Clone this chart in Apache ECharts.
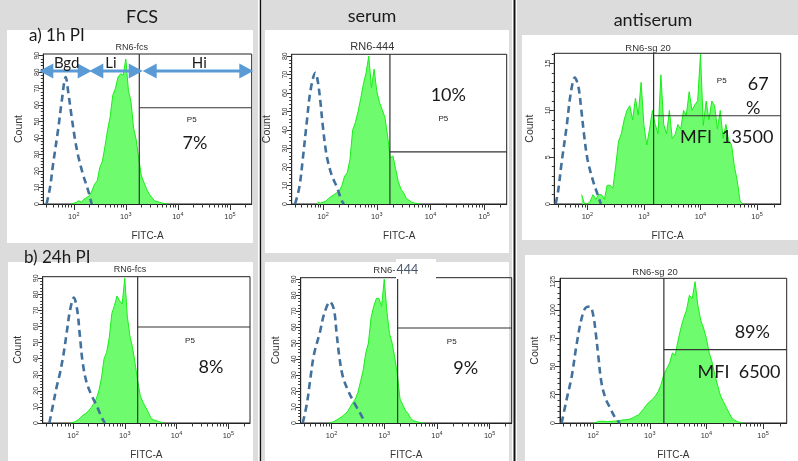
<!DOCTYPE html>
<html><head><meta charset="utf-8">
<script src="https://cdn.jsdelivr.net/npm/echarts@6/dist/echarts.min.js"></script>
<style>html,body{margin:0;padding:0;background:#fff}#c{width:798px;height:461px}</style>
</head><body><div id="c"></div>
<script>
// ---------- data ----------
const bins = [79,89,100,112,126,141,158,178,200,224,251,282,316,355,398,447,501,562,631,708,794,891,1000,1122,1259,1413,1585,1778,1995,2239,2512,2818,3162,3548,3981,4467,5012,5623,6310,7079,7943,8913,10000,11220,12589,14125,15849,17783,19953,22387,25119,28184,31623,35481,39811,44668,50119,56234,63096];

const hist1 = [0,0,0.5,1,2,1,3,4,5,8, 12,14,22,26,35,45,53,66,70,77, 79,78,88,69,62,46,39,27,17,13, 9,6,4,2,1.5,1,0.5,0.3,0,0, 0,0,0,0,0,0,0,0,0,0, 0,0,0,0,0,0,0,0,0];
const hist2 = [1,0.5,1,1.5,3,4,5,6,7,10, 15,17,24,40,44,50,57,65,71,80, 63,73,61,55,51,47,37,25,26,19, 12,8,6,3,2,1,0.5,0.3,0,0, 0,0,0,0,0,0,0,0,0,0, 0,0,0,0,0,0,0,0,0];
const hist3 = [1,0,0,0.3,1,0.5,1,1,0.5,2, 2,1.7,4,6.7,7.5,9,10,10.5,9,11.3, 9.5,13,8.4,6.3,8,10,8.5,7.5,13.8,8.5, 7.5,10,7,7.4,8.5,8,10,9.5,12,10, 10.6,11,16,8.4,11,9,11,10.5,8,10, 7,8.5,6.7,6.3,4,2.5,0.3,0,0];
const hist4 = [0,0,0.3,1,2,3.5,5,6,7.6,9.5, 12,15,20,28,40,44,53,68,73,79, 76,74,90,66,54,47,37,26,17,13, 10,7,3.5,2,1.5,1,0.5,0,0,0, 0,0,0,0,0,0,0,0,0,0, 0,0,0,0,0,0,0,0,0];
const hist5 = [0,0,0.3,1,2,3,4,5.5,7,9.8, 12.5,15,19,26,33,44,50,66,73,78, 78,73,90,70,56,50,41,30,15,11.5, 8,6,3,1.5,1,0.5,0.3,0,0,0, 0,0,0,0,0,0,0,0,0,0, 0,0,0,0,0,0,0,0,0];
const hist6 = [0,0,0,0.5,1.5,1.5,1.5,1.2,1.5,1.5, 1.8,2,2.5,2.8,3,3.5,4.5,6,7,10, 13,16.5,19,21,24,28,34,43,48,53, 62,60,73,84,93,100,113,110,125,104, 91,84,75,62,54,42.5,33,24,19,14, 9,4.5,2.5,1.2,0.5,0,0,0,0];

const ctrlX1 = [30,35,40,50.5,58.6,70,79,91,106,122,152,190,221];
const ctrlY1 = [0,10,24,46,62,77,67,53,39,29,17.5,8,0];
const ctrlX2 = [30,36,41.7,49.5,58.7,72,80,90,98,116,144,179,221,244];
const ctrlY2 = [0,9,24,44,62,71,66,54,43,26.5,15.7,9.4,2,0];
const ctrlX3 = [27.5,30.6,35,43,51,60,69,77,87,101,127,156,173];
const ctrlY3 = [0,1.5,4.4,8.3,11.9,13.5,12.6,10.4,7.5,4.7,2.4,0.8,0];
const ctrlX4 = [35,41,48,56,65,75.5,87.5,104,121,136,154,184,230,287,358,414];
const ctrlY4 = [0,11,22,31,42,56,70,78,70,54,37.5,25,17,10.7,3.5,0];
const ctrlX5 = [28.4,34,39,46.5,60.4,72,93.4,111,125,140,163,208,278,372,430];
const ctrlY5 = [0,11.8,26,43,57,68,76,71,56,42,29.4,20,11.8,4.5,0];
const ctrlX6 = [27.8,34,41.8,51,62.6,73.8,88,100.7,111,123,140,165,198,250,297];
const ctrlY6 = [0,20.8,41,69.4,92.6,102,103,95,80,60,36,22,13.6,4,0];

const gateX = [1816,1754,1483,1775,1795,1775];
const gateY = [58.4,28.2,9.43,59.7,59.5,64.9];

const xMin = 26, xMax = 262144;
const xMajor = [100,1000,10000,100000];
const xMinor = [30,40,50,60,70,80,90,200,300,400,500,600,700,800,900,2000,3000,4000,5000,6000,7000,8000,9000,20000,30000,40000,50000,60000,70000,80000,90000,200000];
const yMaxes = [91,81,16.1,91,91,128];
const yLabels = [
  [0,10,20,30,40,50,60,70,80,90],
  [0,10,20,30,40,50,60,70,80],
  [0,5,10,15],
  [0,10,20,30,40,50,60,70,80,90],
  [0,10,20,30,40,50,60,70,80,90],
  [0,25,50,75,100,125]
];
const yMinorStep = [2,2,1,2,2,5];
const titles = ['RN6-fcs','RN6-444','RN6-sg 20','RN6-fcs','','RN6-sg 20'];

// ---------- layout ----------
const L = Math.log10;
const layout = [
  {l:43.3,t:54,w:208.4,h:150},
  {l:291.7,t:54.3,w:215,h:149.7},
  {l:554.3,t:53.3,w:226.4,h:150.7},
  {l:42.7,t:276.7,w:207.3,h:147.3},
  {l:300.7,t:277.7,w:211,h:146.3},
  {l:560,t:278.3,w:226.7,h:147.4}
];
const hists = [hist1,hist2,hist3,hist4,hist5,hist6];
const ctrls = [[ctrlX1,ctrlY1],[ctrlX2,ctrlY2],[ctrlX3,ctrlY3],[ctrlX4,ctrlY4],[ctrlX5,ctrlY5],[ctrlX6,ctrlY6]];

const AX = 'Liberation Sans';
const CAL = 'Lato';
const grids=[], xAxes=[], yAxes=[], series=[];

function trimZeros(arr){
  return arr.map((v,i)=> (v===0 && !(arr[i-1]>0) && !(arr[i+1]>0)) ? '-' : v);
}

layout.forEach((g,i)=>{
  grids.push({left:g.l, top:g.t, width:g.w, height:g.h, show:true, borderColor:'#222', borderWidth:1, backgroundColor:'transparent', containLabel:false});
  xAxes.push({gridIndex:i, type:'value', min:L(xMin), max:L(xMax), position:'bottom',
    axisLine:{show:true, lineStyle:{color:'#222', width:1}},
    axisTick:{show:true, customValues:xMajor.map(L), length:6, lineStyle:{color:'#333'}},
    axisLabel:{customValues:xMajor.map(L), margin:7, fontSize:7.5, fontFamily:AX, color:'#333',
      formatter:v=>'10{s|'+Math.round(v)+'}', rich:{s:{fontSize:5.5, fontFamily:AX, color:'#333', verticalAlign:'top', padding:[0,0,5,0]}}},
    splitLine:{show:false},
    name:'FITC-A', nameLocation:'middle', nameGap:27, nameTextStyle:{fontSize:10, fontFamily:AX, color:'#333'}
  });
  xAxes.push({gridIndex:i, type:'value', min:L(xMin), max:L(xMax), position:'bottom',
    axisLine:{show:false}, axisTick:{show:true, customValues:xMinor.map(L), length:3.5, lineStyle:{color:'#333'}},
    axisLabel:{show:false}, splitLine:{show:false}});
  const ym = yMaxes[i];
  const minors=[]; for(let v=0; v<=ym; v+=yMinorStep[i]) minors.push(v);
  yAxes.push({gridIndex:i, type:'value', min:0, max:ym, position:'left',
    axisLine:{show:true, lineStyle:{color:'#222', width:1}},
    axisTick:{show:true, customValues:yLabels[i], length:5, lineStyle:{color:'#333'}},
    axisLabel:{customValues:yLabels[i], rotate:90, margin:3, fontSize:7, fontFamily:AX, color:'#333'},
    splitLine:{show:false},
    name:'Count', nameLocation:'middle', nameGap:19, nameTextStyle:{fontSize:10.5, fontFamily:AX, color:'#333'}
  });
  yAxes.push({gridIndex:i, type:'value', min:0, max:ym, position:'left',
    axisLine:{show:false}, axisTick:{show:true, customValues:minors, length:2.5, lineStyle:{color:'#333'}},
    axisLabel:{show:false}, splitLine:{show:false}});

  const hd = trimZeros(hists[i]);
  series.push({type:'line', xAxisIndex:2*i, yAxisIndex:2*i, symbol:'none', silent:true, z:2,
    data: bins.map((b,k)=>[L(b), hd[k]]),
    lineStyle:{color:'#18ee18', width:1}, areaStyle:{color:'#6efc6e', opacity:1}});
  const [cx,cy] = ctrls[i];
  series.push({type:'line', xAxisIndex:2*i, yAxisIndex:2*i, symbol:'none', silent:true, z:3, smooth:0.35,
    data: cx.map((x,k)=>[L(x), cy[k]]),
    lineStyle:{color:'#41719c', width:2.6, type:[7,4.5]}});
  series.push({type:'line', xAxisIndex:2*i, yAxisIndex:2*i, symbol:'none', silent:true, z:4,
    data:[[L(gateX[i]),0],[L(gateX[i]),ym]], lineStyle:{color:'#333', width:1.2}});
  series.push({type:'line', xAxisIndex:2*i, yAxisIndex:2*i, symbol:'none', silent:true, z:4,
    data:[[L(gateX[i]),gateY[i]],[L(xMax),gateY[i]]], lineStyle:{color:'#333', width:1.2}});
});

// ---------- decorations ----------
const G = [];
const GRAY = '#dcdcdc';
function rect(x,y,w,h,fill,z){ G.push({type:'rect', z:z||-10, silent:true, shape:{x,y,width:w,height:h}, style:{fill}}); }
function txt(t,x,y,size,opts){
  opts = opts||{};
  G.push({type:'text', z:100, silent:true, style:{text:t, x, y, font:(opts.w||'normal')+' '+size+'px '+(opts.f||CAL),
    fill:opts.c||'#1a1a1a', align:opts.a||'center', verticalAlign:'middle', textAlign:opts.a||'center', textVerticalAlign:'middle'}});
}
rect(0,0,258,461,GRAY); rect(262,0,250,461,GRAY); rect(517,0,281,461,GRAY);
rect(7,30,246,213,'#fff'); rect(8,262,245,199,'#fff');
rect(265,30,244,223,'#fff'); rect(265,262,244,199,'#fff');
rect(522,35,276,205,'#fff'); rect(525,255,273,206,'#fff');
G.push({type:'line', z:50, silent:true, shape:{x1:260.5,y1:0,x2:260.5,y2:461}, style:{stroke:'#111', lineWidth:1.5}});
G.push({type:'line', z:50, silent:true, shape:{x1:514.5,y1:0,x2:514.5,y2:461}, style:{stroke:'#111', lineWidth:2}});

txt('FCS',142,17,18); txt('serum',372,16,18); txt('antiserum',653,20,18);
txt('a) 1h PI',29,36,17,{a:'left'}); txt('b) 24h PI',24,258,17,{a:'left'});

const titlePos = [[131.7,48,9],[372.3,47,11],[648,48,9.5],[130,270,9],[0,0,0],[655,272,9.5]];
titles.forEach((t,i)=>{ if(t) txt(t,titlePos[i][0],titlePos[i][1],titlePos[i][2],{f:AX,c:'#333'}); });
rect(396,259,40,20,'#fff',90);
txt('RN6-',395.5,270,9.5,{f:AX,c:'#333',a:'right'});
txt('444',396.5,270,12.5,{c:'#44546a',a:'left'});

[[191.7,120],[443.3,119],[721.7,81],[190,341],[451.7,341.7]].forEach(p=>txt('P5',p[0],p[1],8,{f:AX,c:'#222'}));
txt('7%',195,143.3,18); txt('10%',448.3,95,18); txt('67',758.3,84,18); txt('%',753.3,108.3,18);
txt('MFI  13500',726.7,137.3,18); txt('8%',211,366.7,18); txt('9%',465.7,367.7,18);
txt('89%',752.3,331.7,18); txt('MFI  6500',739,372.3,18);

// arrows
const AC = '#5b9bd5';
function arrow(x1,x2,y){
  const hl=14, hh=7.5;
  G.push({type:'line', z:60, silent:true, shape:{x1:x1+hl-1,y1:y,x2:x2-hl+1,y2:y}, style:{stroke:AC, lineWidth:3}});
  G.push({type:'polygon', z:60, silent:true, shape:{points:[[x1,y],[x1+hl,y-hh],[x1+hl,y+hh]]}, style:{fill:AC}});
  G.push({type:'polygon', z:60, silent:true, shape:{points:[[x2,y],[x2-hl,y-hh],[x2-hl,y+hh]]}, style:{fill:AC}});
}
arrow(39.3,91.7,71); arrow(89.3,142.7,71); arrow(142.7,253.3,71);
txt('Bgd',66.7,63,15); txt('Li',111,63,15); txt('Hi',199.3,63,15);

const chart = echarts.init(document.getElementById('c'), null, {renderer:'canvas'});
chart.setOption({animation:false, backgroundColor:'#fff', grid:grids, xAxis:xAxes, yAxis:yAxes, series, graphic:G});
</script></body></html>
